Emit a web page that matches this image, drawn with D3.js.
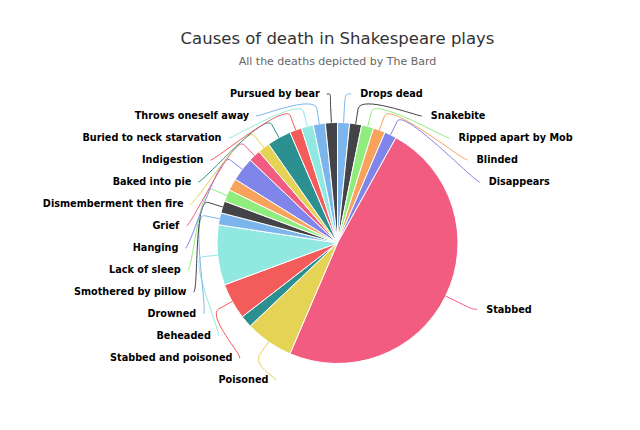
<!DOCTYPE html>
<html><head><meta charset="utf-8">
<script src="https://cdn.jsdelivr.net/npm/d3@7"></script>
<style>body{margin:0;background:#fff}</style>
</head><body><svg id="c" width="640" height="430"></svg>
<script>
// ---- data ----
const causes = ["Drops dead","Snakebite","Ripped apart by Mob","Blinded","Disappears","Stabbed","Poisoned","","Stabbed and poisoned","Beheaded","Drowned","Smothered by pillow","Lack of sleep","","Hanging","Grief","Dismemberment then fire","Baked into pie","Indigestion","Buried to neck starvation","Throws oneself away","Pursued by bear"];
const deaths = [1,1,1,1,1,30,4,1,3,5,1,1,1,1,2,1,1,2,1,1,1,1];
const palette = ["#7cb5ec","#434348","#90ed7d","#f7a35c","#8085e9","#f15c80","#e4d354","#2b908f","#f45b5b","#91e8e1"];
const titleText = "Causes of death in Shakespeare plays";
const subtitleText = "All the deaths depicted by The Bard";

// ---- layout ----
const W = 640, H = 430;
const cx = 337.5, cy = 243, r = 120.5;
const labelDist = 30, connOff = 15, slot = 22;
const labelTop = 94, labelBottom = 382, labelR = 149.2;
const fontLabel = "DejaVu Sans, sans-serif";

const svg = d3.select("#c");
svg.append("rect").attr("width", W).attr("height", H).attr("fill", "#fff");

svg.append("text").attr("x", cx).attr("y", 44).attr("text-anchor", "middle")
  .attr("font-family", fontLabel).attr("font-size", "16.5px").attr("fill", "#333333")
  .text(titleText);
svg.append("text").attr("x", cx).attr("y", 65).attr("text-anchor", "middle")
  .attr("font-family", fontLabel).attr("font-size", "11px").attr("fill", "#666666")
  .text(subtitleText);

const color = d3.scaleOrdinal().domain(d3.range(deaths.length)).range(palette);
const arcs = d3.pie().sort(null).value(d => d)(deaths);
const arc = d3.arc().innerRadius(0).outerRadius(r);

const g = svg.append("g").attr("transform", `translate(${cx},${cy})`);
g.selectAll("path.slice").data(arcs).join("path")
  .attr("class", "slice")
  .attr("d", arc)
  .attr("fill", (d, i) => color(i))
  .attr("stroke", "#ffffff").attr("stroke-width", 1).attr("stroke-linejoin", "round");

// ---- labels (Highcharts-like distribution) ----
const items = arcs.map((a, i) => {
  const m = (a.startAngle + a.endAngle) / 2;
  const s = Math.sin(m), c = Math.cos(m);
  return {
    i, name: causes[i], left: m > Math.PI,
    ny: cy - (r + labelDist) * c,
    touch: [cx + r * s, cy - r * c],
    brk: [cx + (r + connOff) * s, cy - (r + connOff) * c]
  };
}).filter(d => d.name);

function distribute(list) {
  list.sort((a, b) => a.ny - b.ny);
  let prev = -Infinity;
  list.forEach(d => { d.y = Math.max(d.ny, labelTop, prev + slot); prev = d.y; });
  let next = Infinity;
  for (let k = list.length - 1; k >= 0; k--) {
    const d = list[k];
    d.y = Math.min(d.y, labelBottom, next - slot); next = d.y;
  }
}
const rightSide = items.filter(d => !d.left), leftSide = items.filter(d => d.left);
distribute(rightSide); distribute(leftSide);

items.forEach(d => {
  const dy = d.y - cy;
  const s = Math.sqrt(Math.max(0, labelR * labelR - dy * dy));
  if (d.left) { d.cxp = cx - s - 3; d.tx = d.cxp - 7; }
  else { d.cxp = cx + s + 6; d.tx = d.cxp + 9; }
});

svg.append("g").selectAll("path").data(items).join("path")
  .attr("fill", "none")
  .attr("stroke", d => color(d.i)).attr("stroke-width", 1)
  .attr("d", d => {
    const c1 = d.cxp + (d.left ? 5 : -5);
    const c2x = 2 * d.brk[0] - d.touch[0], c2y = 2 * d.brk[1] - d.touch[1];
    return `M${d.cxp},${d.y}C${c1},${d.y} ${c2x},${c2y} ${d.brk[0]},${d.brk[1]}L${d.touch[0]},${d.touch[1]}`;
  });

svg.append("g").selectAll("text").data(items).join("text")
  .attr("x", d => d.tx).attr("y", d => d.y).attr("dy", "0.36em")
  .attr("text-anchor", d => d.left ? "end" : "start")
  .attr("font-family", fontLabel).attr("font-weight", "bold").attr("font-size", "9.7px")
  .attr("fill", "#000000")
  .text(d => d.name);
</script>
</body></html>
